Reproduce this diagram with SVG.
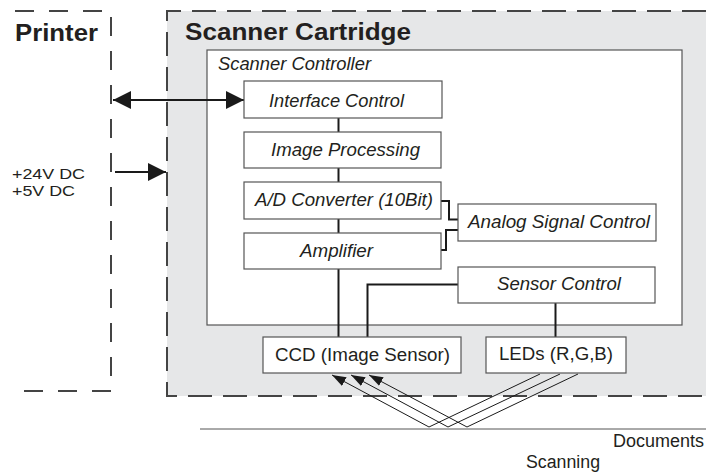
<svg xmlns="http://www.w3.org/2000/svg" width="706" height="472" viewBox="0 0 706 472">
<defs>
<marker id="big" markerUnits="userSpaceOnUse" markerWidth="18" markerHeight="18" refX="16" refY="8" orient="auto-start-reverse" viewBox="0 0 16 16"><path d="M0,0 L16,8 L0,16 Z" fill="#1a1a1a"/></marker>
<marker id="small" markerUnits="userSpaceOnUse" markerWidth="14" markerHeight="10" refX="13" refY="4.5" orient="auto" viewBox="0 0 13 9"><path d="M0,0 L13,4.5 L0,9 Z" fill="#1a1a1a"/></marker>
</defs>
<style>
.t{font-family:"Liberation Sans",Arial,sans-serif;fill:#231f20}
.b{font-weight:bold;font-size:24.5px}
.i{font-style:italic;font-size:18px}
.n{font-size:18px}
.v{font-size:15.5px}
.box{fill:#fff;stroke:#555;stroke-width:1.2}
.dash1{fill:none;stroke:#444;stroke-width:2;stroke-dasharray:19 15}
.dash2{fill:none;stroke:#444;stroke-width:2;stroke-dasharray:24 11}
.con{fill:none;stroke:#1a1a1a;stroke-width:2}
.ray{fill:none;stroke:#1a1a1a;stroke-width:1}
</style>
<rect width="706" height="472" fill="#fff"/>
<g id="printer">
<path class="dash1" d="M15,11 H111 V391 H15"/>
<text class="t b" x="15" y="40.5" textLength="83" lengthAdjust="spacingAndGlyphs">Printer</text>
<text class="t v" x="12" y="179" textLength="73" lengthAdjust="spacingAndGlyphs">+24V DC</text>
<text class="t v" x="12" y="195.5" textLength="63" lengthAdjust="spacingAndGlyphs">+5V DC</text>
</g>
<g id="scanner-cartridge">
<rect x="167" y="11" width="539" height="385" fill="#e6e7e8"/>
<path class="dash2" d="M706,11 H167 V396 H706"/>
<text class="t b" x="185" y="39.5" textLength="226" lengthAdjust="spacingAndGlyphs">Scanner Cartridge</text>
</g>
<g id="scanner-controller">
<rect class="box" x="207" y="50" width="475" height="275"/>
<text class="t i" x="218" y="69.5" textLength="153" lengthAdjust="spacingAndGlyphs">Scanner Controller</text>
</g>
<g id="connectors">
<line class="con" x1="113" y1="100" x2="244" y2="100" marker-start="url(#big)" marker-end="url(#big)"/>
<line class="con" x1="115" y1="172" x2="166" y2="172" marker-end="url(#big)"/>
<line class="con" x1="338.5" y1="118" x2="338.5" y2="132"/>
<line class="con" x1="338.5" y1="168" x2="338.5" y2="182"/>
<line class="con" x1="338.5" y1="219" x2="338.5" y2="233"/>
<line class="con" x1="338.5" y1="269" x2="338.5" y2="337"/>
<path class="con" d="M441,201 H449 V219.5 H458"/>
<path class="con" d="M441,250 H446 V230 H458"/>
<path class="con" d="M458,284.5 H367.5 V337"/>
<line class="con" x1="555.5" y1="303" x2="555.5" y2="337"/>
<polyline class="ray" points="540,374 429,427 332,375" marker-end="url(#small)"/>
<polyline class="ray" points="560,374 448,427 351,375" marker-end="url(#small)"/>
<polyline class="ray" points="578,374 467,427 369,375" marker-end="url(#small)"/>
</g>
<g id="interface-control">
<rect class="box" x="244" y="81" width="198" height="37"/>
<text class="t i" x="269" y="106.5" textLength="135" lengthAdjust="spacingAndGlyphs">Interface Control</text>
</g>
<g id="image-processing">
<rect class="box" x="244" y="132" width="197" height="36"/>
<text class="t i" x="271" y="155.5" textLength="149" lengthAdjust="spacingAndGlyphs">Image Processing</text>
</g>
<g id="ad-converter">
<rect class="box" x="244" y="182" width="197" height="37"/>
<text class="t i" x="255" y="206" textLength="178" lengthAdjust="spacingAndGlyphs">A/D Converter (10Bit)</text>
</g>
<g id="amplifier">
<rect class="box" x="244" y="233" width="197" height="36"/>
<text class="t i" x="300" y="256.5" textLength="73" lengthAdjust="spacingAndGlyphs">Amplifier</text>
</g>
<g id="analog-signal-control">
<rect class="box" x="458" y="204" width="198" height="37"/>
<text class="t i" x="468" y="227.5" textLength="182" lengthAdjust="spacingAndGlyphs">Analog Signal Control</text>
</g>
<g id="sensor-control">
<rect class="box" x="458" y="267" width="197" height="36"/>
<text class="t i" x="497" y="290" textLength="124" lengthAdjust="spacingAndGlyphs">Sensor Control</text>
</g>
<g id="ccd">
<rect class="box" x="263" y="337" width="198" height="36"/>
<text class="t n" x="275" y="360.5" textLength="175" lengthAdjust="spacingAndGlyphs">CCD (Image Sensor)</text>
</g>
<g id="leds">
<rect class="box" x="486" y="337" width="140" height="36"/>
<text class="t n" x="499" y="359.5" textLength="114" lengthAdjust="spacingAndGlyphs">LEDs (R,G,B)</text>
</g>
<g id="documents">
<line x1="200" y1="429" x2="706" y2="429" stroke="#555" stroke-width="1"/>
<text class="t n" x="613" y="446.5" textLength="91" lengthAdjust="spacingAndGlyphs">Documents</text>
<text class="t n" x="526" y="468" textLength="74" lengthAdjust="spacingAndGlyphs">Scanning</text>
</g>
</svg>
